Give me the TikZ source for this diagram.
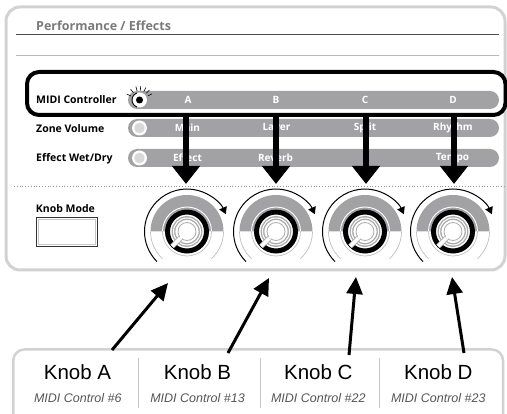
\documentclass[tikz,border=0pt]{standalone}
\usepackage{fontspec}
\setmainfont{Open Sans}
\newfontfamily\helv{Liberation Sans}
\usetikzlibrary{arrows.meta}
\definecolor{bargray}{HTML}{A2A2A5}
\definecolor{panelgray}{HTML}{D2D2D2}
\definecolor{titlegray}{HTML}{7A7A7A}
\definecolor{lightring}{HTML}{D8D8D8}
\definecolor{capgray}{HTML}{555555}
\tikzset{
  rowlabel/.style={anchor=base west, inner sep=0, font=\bfseries\fontsize{10.5}{12}\selectfont},
  bartext/.style={text=white, inner sep=0, font=\bfseries\fontsize{10}{12}\selectfont},
  pill/.style={fill=bargray, rounded corners=9pt},
  bigarrow/.style={line width=5.5pt, -{Triangle[width=27pt,length=18pt]}},
  smallarrow/.style={line width=3pt, -{Triangle[width=16pt,length=17pt]}},
  knoblabel/.style={inner sep=0, font=\helv\fontsize{20.5}{22}\selectfont},
  knobsub/.style={inner sep=0, text=capgray, font=\helv\itshape\fontsize{12.5}{14}\selectfont},
  knob/.pic={
    \fill[bargray] (36.5,0) arc[start angle=0,end angle=180,radius=36.5] -- cycle;
    \draw[gray!50, line width=0.7pt] (180:36.5) arc[start angle=180,end angle=228,radius=36.5];
    \draw[gray!50, line width=0.7pt] (312:36.5) arc[start angle=312,end angle=360,radius=36.5];
    \draw[white, line width=0.9pt] (24.5,0) arc[start angle=0,end angle=180,radius=24.5];
    \draw[gray!50, line width=0.7pt] (-24.5,0) arc[start angle=180,end angle=360,radius=24.5];
    \fill[white] (0,0) circle[radius=22];
    \draw[black, line width=5pt] (0,0) circle[radius=19.5];
    \draw[gray!65, double=white, double distance=1pt, line width=1.4pt] (0,0) circle[radius=13.5];
    \draw[gray!70, double=white, double distance=3.6pt, line width=0.8pt] (225:8.5) -- (225:21);
    \draw[gray!65, fill=white, line width=0.8pt] (0,0) circle[radius=9];
    \fill[white] (225:8) circle[radius=1.9];
    \draw[black, line width=1pt, -{Triangle[width=8pt,length=7pt]}] (225:42.5) arc[start angle=225,end angle=24,radius=42.5];
  }
}
\begin{document}
\begin{tikzpicture}[x=1pt,y=1pt]
\useasboundingbox (0,0) rectangle (507,-414);
% main panel
\draw[panelgray, line width=3pt, rounded corners=14pt] (6,-7) rectangle (505,-270);
\node[anchor=base west, inner sep=0, text=titlegray, font=\bfseries\fontsize{12.5}{14}\selectfont] (title) at (36,-30.5) {Performance / Effects};
\draw[black!70, line width=1pt] (16,-35) -- (499,-35);
\draw[gray!55, line width=0.8pt] (16,-55) -- (499,-55);
% rows
\fill[pill] (128,-91) rectangle (499,-109);
\fill[pill] (128,-119) rectangle (499,-137);
\fill[pill] (128,-149) rectangle (499,-167);
\node[rowlabel] (lmidi) at (36,-103.3) {MIDI Controller};
\node[rowlabel] (lzone) at (36,-132.5) {Zone Volume};
\node[rowlabel] (leff) at (36,-161.5) {Effect Wet/Dry};
% indicators
\fill[white] (139.5,-100) circle[radius=7.5];
\fill[black] (139.5,-100) circle[radius=3.5];
\draw[black, line width=0.9pt] (139.5,-100) ++(110:7.5) arc[start angle=110,end angle=250,radius=7.5];
\foreach \a in {155,130,105,85,63,45,26}
  \draw[black, line width=0.6pt] (139.5,-100) ++(\a:9.5) -- ++(\a:4.5);
\fill[white] (139.5,-128) circle[radius=7.5];
\fill[lightring] (139.5,-128) circle[radius=5.3];
\fill[white] (139.5,-158) circle[radius=7.5];
\fill[lightring] (139.5,-158) circle[radius=5.3];
% bar texts
\node[bartext] (tA) at (188,-100) {A};
\node[bartext] (tB) at (276,-100) {B};
\node[bartext] (tC) at (365,-100) {C};
\node[bartext] (tD) at (453,-100) {D};
\node[bartext] (zA) at (187.5,-128) {Main};
\node[bartext] (zB) at (276.5,-128) {Layer};
\node[bartext] (zC) at (365,-128) {Split};
\node[bartext] (zD) at (453,-128) {Rhythm};
\node[bartext] (eA) at (187.5,-158) {Effect};
\node[bartext] (eB) at (275.5,-158) {Reverb};
\node[bartext] (eD) at (452.5,-158) {Tempo};
% highlight box
\draw[black, line width=4pt, rounded corners=12pt] (27,-72) rectangle (505.5,-115);
% dotted separator
\draw[gray!80, line width=0.8pt, dotted] (14,-186) -- (505,-186);
% knob mode
\node[anchor=base west, inner sep=0, font=\bfseries\fontsize{10.5}{12}\selectfont] (kmlabel) at (35.7,-212.5) {Knob Mode};
\draw[black!80, line width=1.2pt] (36.3,-217.8) rectangle (97.7,-246.2);
\draw[gray!45, line width=0.7pt] (38.2,-219.7) rectangle (95.8,-244.3);
% knobs
\pic at (187,-231.5) {knob};
\pic at (276,-231.5) {knob};
\pic at (365,-231.5) {knob};
\pic at (453,-231.5) {knob};
% top arrows
\coordinate (sA) at (186,-113);
\coordinate (sB) at (276,-113);
\coordinate (sC) at (366,-113);
\coordinate (sD) at (454,-113);
\coordinate (eAa) at (186,-184);
\coordinate (eBa) at (276,-184);
\coordinate (eCa) at (366,-184);
\coordinate (eDa) at (454,-184);
\draw[bigarrow] (sA) -- (eAa);
\draw[bigarrow] (sB) -- (eBa);
\draw[bigarrow] (sC) -- (eCa);
\draw[bigarrow] (sD) -- (eDa);
% bottom panel
\draw[panelgray, line width=2.5pt, rounded corners=11pt] (13.3,-418) -- (13.3,-349.5) -- (503,-349.5) -- (503,-418);
\draw[gray!45, line width=0.8pt] (138.3,-358) -- (138.3,-408);
\draw[gray!45, line width=0.8pt] (260,-358) -- (260,-408);
\draw[gray!45, line width=0.8pt] (379.3,-358) -- (379.3,-408);
\node[knoblabel, anchor=base] (nA) at (77.5,-379.3) {Knob A};
\node[knoblabel, anchor=base] (nB) at (197.5,-379.3) {Knob B};
\node[knoblabel, anchor=base] (nC) at (318.3,-379.3) {Knob C};
\node[knoblabel, anchor=base] (nD) at (438.3,-379.3) {Knob D};
\node[knobsub, anchor=base] (mA) at (77.8,-402.7) {MIDI Control \#6};
\node[knobsub, anchor=base] (mB) at (197.5,-402.7) {MIDI Control \#13};
\node[knobsub, anchor=base] (mC) at (318.3,-402.7) {MIDI Control \#22};
\node[knobsub, anchor=base] (mD) at (438.3,-402.7) {MIDI Control \#23};
% bottom arrows
\coordinate (bA) at (112,-350);
\coordinate (bB) at (228,-353);
\coordinate (bC) at (349,-355);
\coordinate (bD) at (464,-353);
\coordinate (tipA) at (168,-283);
\coordinate (tipB) at (269,-278);
\coordinate (tipC) at (356,-277);
\coordinate (tipD) at (452,-277);
\draw[smallarrow] (bA) -- (tipA);
\draw[smallarrow] (bB) -- (tipB);
\draw[smallarrow] (bC) -- (tipC);
\draw[smallarrow] (bD) -- (tipD);
\end{tikzpicture}
\end{document}
